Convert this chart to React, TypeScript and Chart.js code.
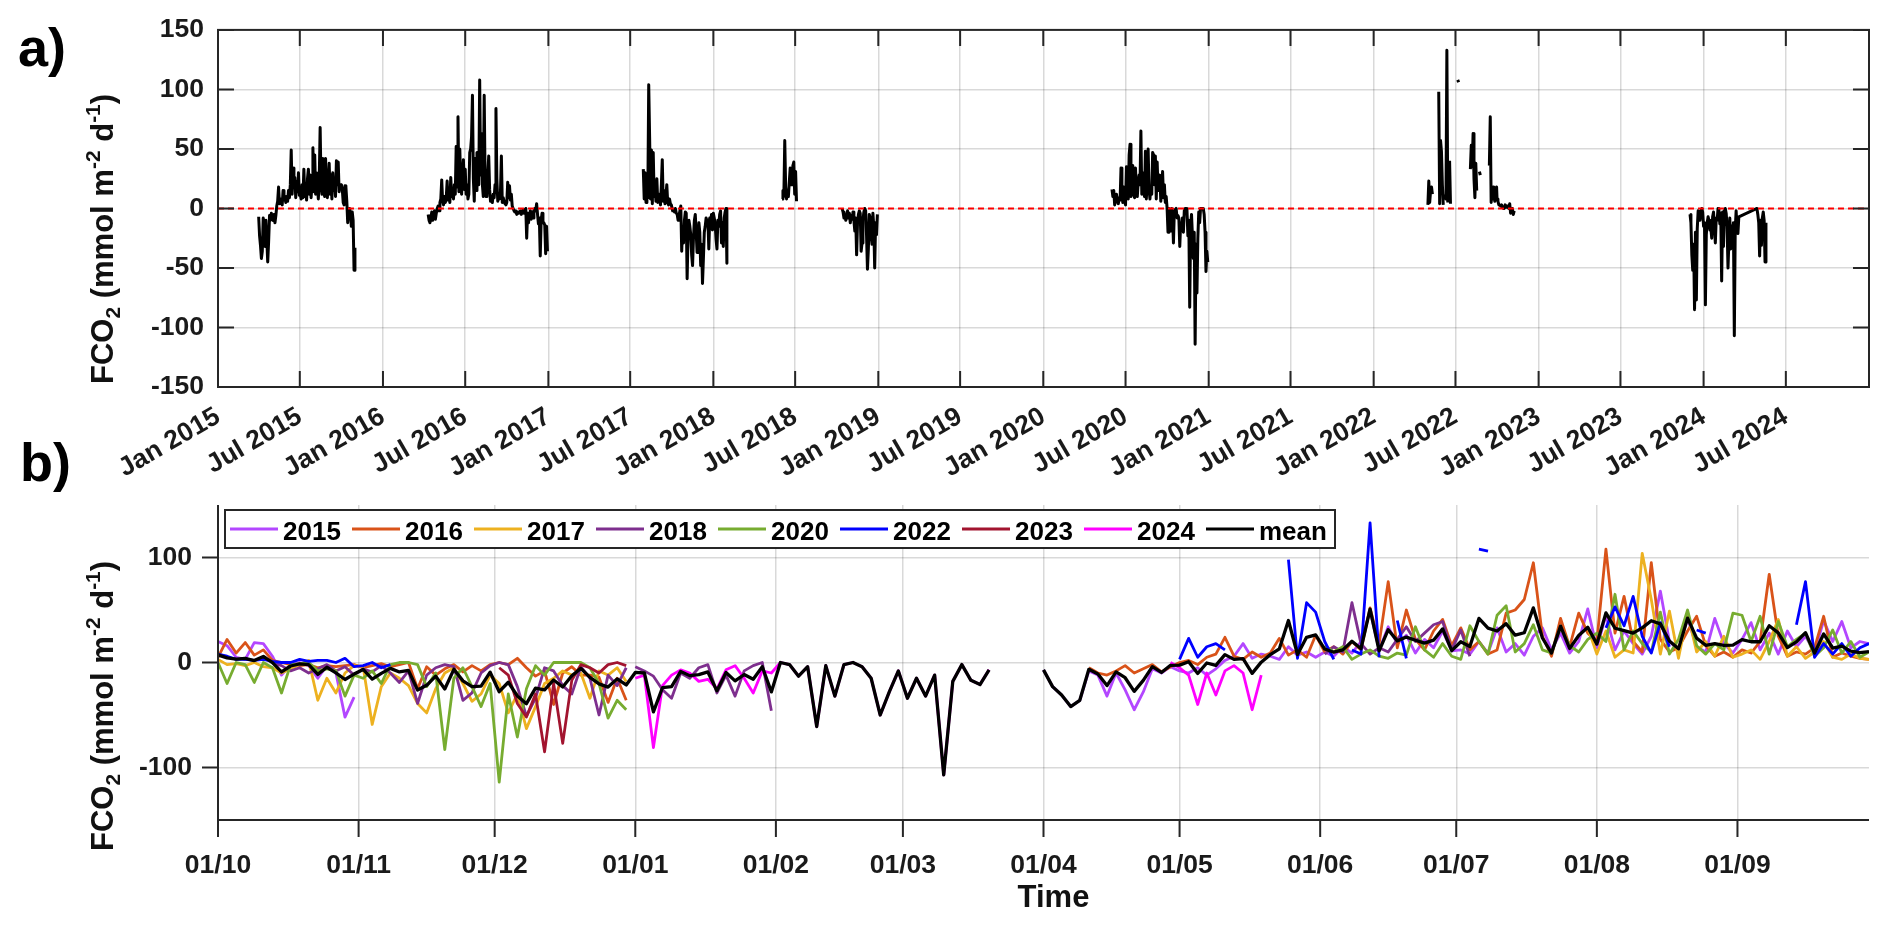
import { useEffect, useRef } from "react";
import { Chart, registerables } from "chart.js";

Chart.register(...registerables);

const W = 1892;
const H = 928;
const FONT = '"Liberation Sans", Arial, Helvetica, sans-serif';
const INK = "#262626";
const GRID = "rgba(0,0,0,0.15)";
const TICK = 16;

// ---------------- data: FCO2 (mmol m-2 d-1), one value every 2 days ----------------
const start2015a = "2015-04-01";
const fco2_2015a = [
  -7, -23, -31, -42, -36, -8, -12, -32, -10, -26, -45, -28, -6, -10, -4,
  -8, -10, -5, -12, -6, 2, 6, 18, 4, 8, 6, 3, 15, 7, 10, 5,
  10, 6, 15, 9, 20, 49, 12, 34, 18, 26, 9, 22, 14, 30, 11,
  12, 8, 20, 9, 33, 10, 18, 7, 25, 33, 12, 28, 9, 20, 51,
  14, 45, 12, 30, 18, 8, 25, 68, 20, 12, 42, 15, 10, 42, 18, 9,
  22, 38, 12, 28, 8, 30, 15, 25, 10, 40, 20, 39, 14, 20, 18,
];
const start2015b = "2015-10-01";
const fco2_2015b = [20, 16, 5, 3, 19, 18, 6, -12, -2, 0, -3, -15, -3, -10, -52, -33];

const start2016a = "2016-04-10";
const fco2_2016a = [
  -5, -10, -12, -8, -3, -10, -6, -2, -9, -4, 0,
  2, -2, 5, 8, 24, 6, 3, 10, 5, 9, 23, 7, 12, 5, 26,
  10, 15, 8, 20, 12, 52, 18, 77, 14, 50, 22, 12, 30, 41, 16,
  33, 12, 20, 8, 12, 47, 50, 60, 95, 25, 6, 42, 15, 47, 28, 20,
  108, 28, 63, 20, 10, 95, 22, 10, 14, 30, 44, 16, 6, 10, 5,
  12, 9, 20, 84, 25, 6, 10, 8, 14, 44, 5, 9, 6, 4, 3,
];
const start2016b = "2016-10-01";
const fco2_2016b = [
  5, 22, 9, 19, 7, 12, 2, 0, -2, -3, -2, -5, -3, -4, -3, -2,
  -5, -3, -1, -4, -2, 0, -25, -4, -12, -6, -2, -9, -3, -8, -2,
  0, -2, 4, -5, -13, -8, -40, -10, -4, -12, -12, -14, -38, -15, -36,
];

const start2017a = "2017-07-30";
const fco2_2017a = [
  33,
  8, 30, 5, 12, 9, 104, 60, 8, 49, 4, 47, 10, 20, 6, 25, 5,
  8, 12, 3, 20, 41, 6, 15, 4, 10, 20, 5, 3, 8, 4, 3,
];
const start2017b = "2017-10-01";
const fco2_2017b = [
  3, -2, -1, -3, 0, -4, -5, -10, -6, -2, 2, -36, -15, -29, -10, -3,
  -4, -59, -23, -10, -15, -22, -39, -48, -25, -10, -5, -20, -37, -30, -12,
  -20, -48, -30, -63, -42, -20, -15, -8, -12, -10, -34, -8, -12, -5, -18,
];

const start2018a = "2018-01-01";
const fco2_2018a = [-4, -8, -13, -26, -34, -10, -15, -5, -2, -29, -12, -32, -8, -3, 0, -46];
const start2018b = "2018-06-02";
const fco2_2018b = [8, 15, 10, 57, 18, 8, 14, 10, 22, 34, 20, 28, 36, 39, 12, 31, 6];
const start2018c = "2018-10-13";
const fco2_2018c = [
  0, -3, -8, -5, -10, -6, -2, -8, -4, -12,
  -6, -9, -3, -10, -19, -8, -39, -12, -5, -2, -4, -36, -29, -10, -3,
  0, -2, -23, -51, -34, -5, -8, -22, -30, -4, -15, -50, -12, -22, -5,
];

const start2020a = "2020-06-01";
const fco2_2020a = [
  16, 10, 15, 3, 8, 12, 6, 4, 9, 7, 34, 12, 5, 18, 6,
  3, 35, 20, 8, 45, 54, 10, 18, 36, 12, 9, 34, 16, 10, 22, 28,
  20, 65, 12, 30, 18, 10, 48, 8, 22, 50, 16, 8, 18, 12, 47,
  45, 20, 44, 8, 39, 15, 22, 28, 6, 14, 31, 9, 20, 5, 10,
];
const start2020b = "2020-10-01";
const fco2_2020b = [
  0, -20, 0, -2, -19, 0, -5, -29, -2, -1, 0, -8, -6, -8, -32, -12,
  -15, -8, -20, -2, 0, 0, -2, -23, -10, -83, -15, -5, -23, -42, -20,
  -114, -30, -71, -25, -3, -12, 0, 0, 0, 0, -5, -20, -53, -36, -45,
];

const start2022a = "2022-05-01";
const fco2_2022a = [
  3, 23, 5, 15, 18, 12, null, null, null, null, null, null, 98, 4, 57, 48,
  20, 3, null, 12, 8, 133, 5, null, 40, 4, null, null, null, null, null,
  null, null, 108, 106, null, null, null, null, null, null, null, null, null, null, null,
  null, 33, 53, 35, 63, 25, 9, 38, 15, null, null, 31, 28, null, null, null,
  null, null, null, null, null, null, 36, 77, 5, 18, 8, 18, 6, 14, 18,
];
const start2022b = "2022-10-01";
const fco2_2022b = [8, 6, 3, 3, 2, 3, 1, 0, 0, 3, 1, 2, 2, 0, 4, -4, -3, 0, -5, -2];

const start2023 = "2023-12-02";
const fco2_2023 = [-5, -12, -39, -52, -30, -85, -20, -77, -17, -2, -5, -10, -2, 0, -3];

const start2024 = "2024-01-01";
const fco2_2024 = [
  -15, -12, -81, -22, -12, -7, -10, -18, -16, -25, -7, -3, -15, -29, -8, -10,
  0, -2, -13, -4, -61, -3, -32, -2, 0, -4, -15, -50, -28, -8,
  -34, -15, -32, -12, -107, -18, -2, -17, -21, -7,
  null, null, null, null, null, null, null, null, null, null,
  null, null, null, null, null, null, null, null, null,
  0, -5,
  -12, -40, -10, -31, -8, -3, -10, -45, -12,
];

// ---------------- axes / legend ----------------
const tickLabelsA = [
  "Jan 2015", "Jul 2015", "Jan 2016", "Jul 2016", "Jan 2017", "Jul 2017", "Jan 2018", "Jul 2018",
  "Jan 2019", "Jul 2019", "Jan 2020", "Jul 2020", "Jan 2021", "Jul 2021", "Jan 2022", "Jul 2022",
  "Jan 2023", "Jul 2023", "Jan 2024", "Jul 2024",
];
const tickDatesA = [
  "2015-01-01", "2015-07-01", "2016-01-01", "2016-07-01", "2017-01-01", "2017-07-01", "2018-01-01", "2018-07-01",
  "2019-01-01", "2019-07-01", "2020-01-01", "2020-07-01", "2021-01-01", "2021-07-01", "2022-01-01", "2022-07-01",
  "2023-01-01", "2023-07-01", "2024-01-01", "2024-07-01",
];
const rangeA = ["2015-01-01", "2025-01-01"];
const ticksY_A = [-150, -100, -50, 0, 50, 100, 150];

const tickLabelsB = ["01/10", "01/11", "01/12", "01/01", "01/02", "01/03", "01/04", "01/05", "01/06", "01/07", "01/08", "01/09"];
const tickDatesB = [
  "2014-10-01", "2014-11-01", "2014-12-01", "2015-01-01", "2015-02-01", "2015-03-01",
  "2015-04-01", "2015-05-01", "2015-06-01", "2015-07-01", "2015-08-01", "2015-09-01",
];
const endDateB = "2015-09-30";
const ticksY_B = [-100, 0, 100];

const yearsB = [2015, 2016, 2017, 2018, 2020, 2022, 2023, 2024];
const colorsB = ["#B347FF", "#D95319", "#EDB120", "#7E2F8E", "#77AC30", "#0000FF", "#A2142F", "#FF00FF"];
const meanLabel = "mean";
const meanColor = "#000000";

// ---------------- helpers ----------------
const DAY = 86400000;
const toUTC = (s: string) => {
  const [y, m, d] = s.split("-").map(Number);
  return Date.UTC(y, m - 1, d);
};
const EPOCH = toUTC("2015-01-01");
const dayIndex = (t: number) => Math.round((t - EPOCH) / DAY);
const seasonDay = (t: number) => {
  const d = new Date(t);
  const y = d.getUTCFullYear();
  const sy = d.getUTCMonth() >= 9 ? y : y - 1;
  return Math.round((t - Date.UTC(sy, 9, 1)) / DAY);
};

type Chunk = { year: number; seg: number; start: string; values: (number | null)[] };
const chunks: Chunk[] = [
  { year: 2015, seg: 0, start: start2015a, values: fco2_2015a },
  { year: 2015, seg: 0, start: start2015b, values: fco2_2015b },
  { year: 2016, seg: 1, start: start2016a, values: fco2_2016a },
  { year: 2016, seg: 1, start: start2016b, values: fco2_2016b },
  { year: 2017, seg: 2, start: start2017a, values: fco2_2017a },
  { year: 2017, seg: 2, start: start2017b, values: fco2_2017b },
  { year: 2018, seg: 2, start: start2018a, values: fco2_2018a },
  { year: 2018, seg: 3, start: start2018b, values: fco2_2018b },
  { year: 2018, seg: 4, start: start2018c, values: fco2_2018c },
  { year: 2020, seg: 5, start: start2020a, values: fco2_2020a },
  { year: 2020, seg: 5, start: start2020b, values: fco2_2020b },
  { year: 2022, seg: 6, start: start2022a, values: fco2_2022a },
  { year: 2022, seg: 6, start: start2022b, values: fco2_2022b },
  { year: 2023, seg: 7, start: start2023, values: fco2_2023 },
  { year: 2024, seg: 7, start: start2024, values: fco2_2024 },
];

function chunkPoints(c: Chunk) {
  const t0 = toUTC(c.start);
  return c.values.map((v, i) => {
    const t = t0 + 2 * i * DAY;
    return { a: dayIndex(t), s: seasonDay(t), v };
  });
}

function drawYTitle(ctx: CanvasRenderingContext2D, xBase: number, yStart: number) {
  const main = `bold 31px ${FONT}`;
  const small = `bold 21px ${FONT}`;
  const parts = [
    { t: "FCO", f: main, dy: 0 },
    { t: "2", f: small, dy: 7 },
    { t: " (mmol m", f: main, dy: 0 },
    { t: "-2", f: small, dy: -13 },
    { t: " d", f: main, dy: 0 },
    { t: "-1", f: small, dy: -13 },
    { t: ")", f: main, dy: 0 },
  ];
  ctx.save();
  ctx.translate(xBase, yStart);
  ctx.rotate(-Math.PI / 2);
  ctx.textAlign = "left";
  ctx.textBaseline = "alphabetic";
  ctx.fillStyle = "#111";
  let x = 0;
  for (const p of parts) {
    ctx.font = p.f;
    ctx.fillText(p.t, x, p.dy);
    x += ctx.measureText(p.t).width;
  }
  ctx.restore();
}

const tickFont = { family: FONT, size: 26.5, weight: "bold" as const };

function buildConfigA(): any {
  const datasets: any[] = [];
  datasets.push({
    label: "zero",
    data: [
      { x: 0, y: 0 },
      { x: dayIndex(toUTC(rangeA[1])), y: 0 },
    ],
    borderColor: "#FF0000",
    borderWidth: 2,
    borderDash: [6, 4],
    pointRadius: 0,
    order: 0,
  });
  for (let g = 0; g < 8; g++) {
    const pts = chunks
      .filter((c) => c.seg === g)
      .flatMap((c) => chunkPoints(c))
      .map((p) => ({ x: p.a, y: p.v }));
    datasets.push({
      label: "seg" + g,
      data: pts,
      borderColor: "#000",
      borderWidth: 3,
      pointRadius: 0,
      spanGaps: g === 7,
      borderJoinStyle: "round",
      order: 1,
    });
  }
  const tickPos = tickDatesA.map((d) => dayIndex(toUTC(d)));
  const plugin = {
    id: "frameA",
    afterDraw(chart: any) {
      const { ctx, chartArea: ca, scales } = chart;
      const xs = scales.x;
      const ys = scales.y;
      ctx.save();
      ctx.strokeStyle = INK;
      ctx.lineWidth = 2;
      ctx.strokeRect(ca.left, ca.top, ca.right - ca.left, ca.bottom - ca.top);
      ctx.beginPath();
      for (const t of xs.ticks) {
        const px = xs.getPixelForValue(t.value);
        ctx.moveTo(px, ca.bottom);
        ctx.lineTo(px, ca.bottom - TICK);
        ctx.moveTo(px, ca.top);
        ctx.lineTo(px, ca.top + TICK);
      }
      for (const t of ys.ticks) {
        const py = ys.getPixelForValue(t.value);
        ctx.moveTo(ca.left, py);
        ctx.lineTo(ca.left + TICK, py);
        ctx.moveTo(ca.right, py);
        ctx.lineTo(ca.right - TICK, py);
      }
      ctx.stroke();
      drawYTitle(ctx, 113, ca.bottom - 3);
      ctx.font = `bold 54px ${FONT}`;
      ctx.fillStyle = "#000";
      ctx.textAlign = "left";
      ctx.textBaseline = "alphabetic";
      ctx.fillText("a)", 18, 66);
      ctx.restore();
    },
  };
  return {
    type: "line",
    data: { datasets },
    options: {
      responsive: false,
      animation: false,
      events: [],
      layout: { padding: { top: 28, right: 23, left: 0, bottom: 428 } },
      plugins: { legend: { display: false }, tooltip: { enabled: false } },
      scales: {
        x: {
          type: "linear",
          min: 0,
          max: dayIndex(toUTC(rangeA[1])),
          afterBuildTicks: (s: any) => {
            s.ticks = tickPos.map((v) => ({ value: v }));
          },
          afterFit: (s: any) => {
            s.height = 113;
          },
          grid: { color: GRID, lineWidth: 1.5, drawTicks: false },
          border: { display: false },
          ticks: {
            autoSkip: false,
            minRotation: 30,
            maxRotation: 30,
            padding: 14,
            color: "#1a1a1a",
            font: tickFont,
            callback: (_v: any, i: number) => tickLabelsA[i],
          },
        },
        y: {
          type: "linear",
          min: -150,
          max: 150,
          afterBuildTicks: (s: any) => {
            s.ticks = ticksY_A.map((v) => ({ value: v }));
          },
          afterFit: (s: any) => {
            s.width = 218;
          },
          grid: { color: GRID, lineWidth: 1.5, drawTicks: false },
          border: { display: false },
          ticks: { padding: 14, color: "#1a1a1a", font: tickFont, callback: (v: any) => String(v) },
        },
      },
    },
    plugins: [plugin],
  };
}

function buildConfigB(): any {
  const datasets: any[] = [];
  // mean over all years, per season day
  const acc = new Map<number, number[]>();
  chunks.forEach((c) =>
    chunkPoints(c).forEach((p) => {
      if (p.v !== null) {
        if (!acc.has(p.s)) acc.set(p.s, []);
        acc.get(p.s)!.push(p.v as number);
      }
    })
  );
  const endS = seasonDay(toUTC(endDateB));
  const meanPts: { x: number; y: number | null }[] = [];
  for (let s = 0; s <= endS; s += 2) {
    const arr = acc.get(s);
    meanPts.push({ x: s, y: arr ? arr.reduce((a, b) => a + b, 0) / arr.length : null });
  }
  datasets.push({
    label: meanLabel,
    data: meanPts,
    borderColor: meanColor,
    borderWidth: 3.3,
    pointRadius: 0,
    borderJoinStyle: "round",
    order: 0,
  });
  yearsB.forEach((y, k) => {
    const parts = chunks
      .filter((c) => c.year === y)
      .map((c) => chunkPoints(c).map((p) => ({ x: p.s, y: p.v })))
      .sort((a, b) => a[0].x - b[0].x);
    const pts: { x: number; y: number | null }[] = [];
    parts.forEach((part, j) => {
      if (j > 0) pts.push({ x: (pts[pts.length - 1].x + part[0].x) / 2, y: null });
      pts.push(...part);
    });
    datasets.push({
      label: String(y),
      data: pts,
      borderColor: colorsB[k],
      borderWidth: 2.8,
      pointRadius: 0,
      borderJoinStyle: "round",
      order: yearsB.length - k,
    });
  });
  const tickPos = tickDatesB.map((d) => seasonDay(toUTC(d)));
  const legendItems = [
    ...yearsB.map((y, k) => ({ label: String(y), color: colorsB[k] })),
    { label: meanLabel, color: meanColor },
  ];
  const plugin = {
    id: "frameB",
    afterDraw(chart: any) {
      const { ctx, chartArea: ca, scales } = chart;
      const xs = scales.x;
      const ys = scales.y;
      ctx.save();
      ctx.strokeStyle = INK;
      ctx.lineWidth = 2;
      ctx.beginPath();
      ctx.moveTo(ca.left, ca.top);
      ctx.lineTo(ca.left, ca.bottom);
      ctx.lineTo(ca.right, ca.bottom);
      for (const t of xs.ticks) {
        const px = xs.getPixelForValue(t.value);
        ctx.moveTo(px, ca.bottom);
        ctx.lineTo(px, ca.bottom + TICK + 1);
      }
      for (const t of ys.ticks) {
        const py = ys.getPixelForValue(t.value);
        ctx.moveTo(ca.left, py);
        ctx.lineTo(ca.left - TICK, py);
      }
      ctx.stroke();
      drawYTitle(ctx, 113, ca.bottom + 31);
      ctx.fillStyle = "#111";
      ctx.font = `bold 31px ${FONT}`;
      ctx.textAlign = "center";
      ctx.textBaseline = "alphabetic";
      ctx.fillText("Time", (ca.left + ca.right) / 2 + 10, 907);
      // legend
      const lx = ca.left + 7;
      const ly = ca.top + 5;
      const lw = 1110;
      const lh = 38;
      ctx.fillStyle = "#fff";
      ctx.fillRect(lx, ly, lw, lh);
      ctx.strokeStyle = INK;
      ctx.lineWidth = 2;
      ctx.strokeRect(lx, ly, lw, lh);
      ctx.font = `bold 26px ${FONT}`;
      ctx.textAlign = "left";
      legendItems.forEach((it, i) => {
        const x0 = lx + 5 + i * 122;
        ctx.strokeStyle = it.color;
        ctx.lineWidth = 2.8;
        ctx.beginPath();
        ctx.moveTo(x0, ly + 19);
        ctx.lineTo(x0 + 48, ly + 19);
        ctx.stroke();
        ctx.fillStyle = "#000";
        ctx.fillText(it.label, x0 + 53, ly + 30);
      });
      ctx.font = `bold 54px ${FONT}`;
      ctx.fillStyle = "#000";
      ctx.fillText("b)", 20, 481);
      ctx.restore();
    },
  };
  return {
    type: "line",
    data: { datasets },
    options: {
      responsive: false,
      animation: false,
      events: [],
      layout: { padding: { top: 505, right: 23, left: 0, bottom: 8 } },
      plugins: { legend: { display: false }, tooltip: { enabled: false } },
      scales: {
        x: {
          type: "linear",
          min: 0,
          max: endS,
          afterBuildTicks: (s: any) => {
            s.ticks = tickPos.map((v) => ({ value: v }));
          },
          afterFit: (s: any) => {
            s.height = 100;
          },
          grid: { color: GRID, lineWidth: 1.5, drawTicks: false },
          border: { display: false },
          ticks: {
            autoSkip: false,
            maxRotation: 0,
            minRotation: 0,
            padding: 30,
            color: "#1a1a1a",
            font: tickFont,
            callback: (_v: any, i: number) => tickLabelsB[i],
          },
        },
        y: {
          type: "linear",
          min: -150,
          max: 150,
          afterBuildTicks: (s: any) => {
            s.ticks = ticksY_B.map((v) => ({ value: v }));
          },
          afterFit: (s: any) => {
            s.width = 218;
          },
          grid: { color: GRID, lineWidth: 1.5, drawTicks: false },
          border: { display: false },
          ticks: { padding: 26, color: "#1a1a1a", font: tickFont, callback: (v: any) => String(v) },
        },
      },
    },
    plugins: [plugin],
  };
}

export default function App() {
  const refA = useRef<HTMLCanvasElement>(null);
  const refB = useRef<HTMLCanvasElement>(null);
  useEffect(() => {
    document.body.style.margin = "0";
    Chart.defaults.font.family = FONT;
    const a = new Chart(refA.current!, buildConfigA());
    const b = new Chart(refB.current!, buildConfigB());
    return () => {
      a.destroy();
      b.destroy();
    };
  }, []);
  return (
    <div style={{ position: "fixed", left: 0, top: 0, width: W, height: H, background: "#fff" }}>
      <canvas ref={refA} width={W} height={H} style={{ position: "absolute", left: 0, top: 0, width: W, height: H }} />
      <canvas ref={refB} width={W} height={H} style={{ position: "absolute", left: 0, top: 0, width: W, height: H }} />
    </div>
  );
}
